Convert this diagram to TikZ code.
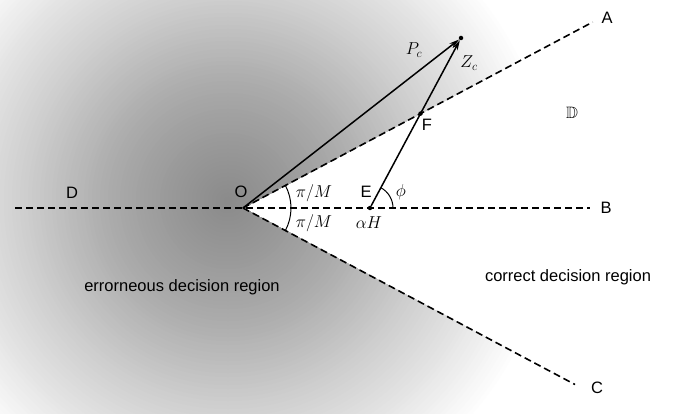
\documentclass[tikz,border=0pt]{standalone}
\usepackage{amssymb}
\usepackage{fontspec}
\setmainfont{Liberation Sans}
\usetikzlibrary{calc,arrows.meta,intersections}
\begin{document}
\begin{tikzpicture}[x=1pt,y=1pt,
  lab/.style={font=\fontsize{16.5}{19}\selectfont, inner sep=0pt},
  dline/.style={line width=1.6pt, dash pattern=on 7pt off 4pt},
  sline/.style={line width=1.5pt, -{Stealth[length=10pt,width=5.5pt]}},
  ang/.style={line width=1pt},
  dot/.style={circle, fill=black, inner sep=0pt, minimum size=4.5pt}]
\useasboundingbox (0,0) rectangle (678,413);
\fill[white] (0,0) rectangle (678,413);
\coordinate (O) at (243,205);
\coordinate (Aend) at ($(O)+(28:396)$);
\coordinate (Bend) at (590,205);
\coordinate (Cend) at ($(O)+(-28:376)$);
\coordinate (Dend) at (15,205);
\coordinate (SC) at (228,212);
\begin{scope}
\clip (O) -- ($(O)+(28:1000)$) -- (-1000,1000) -- (-1000,-1000) -- ($(O)+(-28:1000)$) -- cycle;
\foreach \r in {340,336,...,2}{
  \pgfmathsetmacro\p{\r<60 ? 46-0.1*\r : (\r<120 ? 40-0.1167*(\r-60) : (\r<200 ? 33-0.1625*(\r-120) : (\r<260 ? 20-0.15*(\r-200) : max(0,11-0.16*(\r-260)))))}
  \fill[black!\p] (SC) circle (\r);
}
\end{scope}
\draw[dline] (Dend) -- (Bend);
\draw[dline] (O) -- (Aend);
\draw[dline] (O) -- (Cend);
\node[dot] (E) at (370,205) {};
\node[dot] (P) at (461,375) {};
\path[name path=ep] (E) -- (P);
\path[name path=oa] (O) -- (Aend);
\path[name intersections={of=ep and oa, by=Fp}];
\node[dot] (F) at (Fp) {};
\draw[sline] (O) -- (P);
\draw[sline] (E) -- (P);
\draw[ang] ($(O)+(48,0)$) arc[start angle=0, end angle=28, radius=48];
\draw[ang] ($(O)+(48,0)$) arc[start angle=0, end angle=-28, radius=48];
\draw[ang] ($(E)+(23,0)$) arc[start angle=0, end angle=61.8, radius=23];
\node[lab] (Alab) at (607,395) {A};
\node[lab] (Blab) at (606,205) {B};
\node[lab] (Clab) at (597,25) {C};
\node[lab] (Dlab) at (72,220) {D};
\node[lab] (Olab) at (241,221) {O};
\node[lab] (Elab) at (366,221) {E};
\node[lab] (Flab) at (427,288) {F};
\node[lab] (aH) at (369,190) {$\alpha H$};
\node[lab] (phi) at (401,221) {$\phi$};
\node[lab] (pm1) at (314,220) {$\pi/M$};
\node[lab] (pm2) at (314,190) {$\pi/M$};
\node[lab] (Pc) at (414,363) {$P_c$};
\node[lab] (Zc) at (469,350) {$Z_c$};
\node[lab] (DD) at (572,300) {$\mathbb{D}$};
\node[lab] (err) at (182,126) {errorneous decision region};
\node[lab] (cor) at (568,136) {correct decision region};
\end{tikzpicture}
\end{document}
